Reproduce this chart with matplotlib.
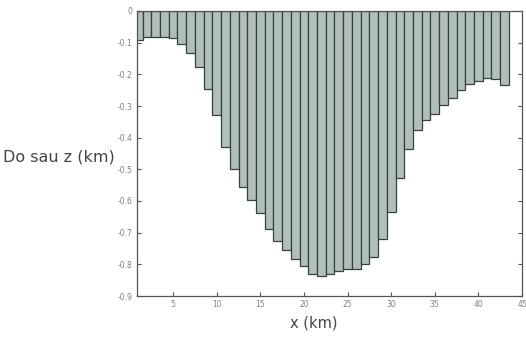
import matplotlib
matplotlib.use("Agg")
import matplotlib.pyplot as plt
import numpy as np

# Cross-section of basin depth along the profile
x_km = list(range(1, 44))
depth_km = [
    -0.090, -0.083, -0.081, -0.081, -0.084, -0.105, -0.134, -0.177, -0.245, -0.329,
    -0.430, -0.500, -0.557, -0.598, -0.639, -0.687, -0.725, -0.756, -0.783, -0.804,
    -0.832, -0.838, -0.830, -0.822, -0.816, -0.814, -0.798, -0.777, -0.719, -0.635,
    -0.527, -0.437, -0.376, -0.345, -0.324, -0.297, -0.276, -0.250, -0.229, -0.220,
    -0.213, -0.216, -0.234,
]
x_ticks = [5, 10, 15, 20, 25, 30, 35, 40, 45]
y_ticks = [0, -0.1, -0.2, -0.3, -0.4, -0.5, -0.6, -0.7, -0.8, -0.9]
y_tick_labels = ["0", "-0.1", "-0.2", "-0.3", "-0.4", "-0.5", "-0.6", "-0.7", "-0.8", "-0.9"]

fig = plt.figure(figsize=(5.26, 3.38), dpi=100)
ax = fig.add_axes([137 / 526, 1 - 296 / 338, 385 / 526, 285 / 338])

ax.bar(x_km, depth_km, width=1.0, align="center",
       color="#b1bebb", edgecolor="#33443f", linewidth=0.9)

ax.set_xlim(0.86, 45)
ax.set_ylim(-0.9, 0)
ax.set_xticks(x_ticks)
ax.set_yticks(y_ticks)
ax.set_yticklabels(y_tick_labels)

ax.tick_params(direction="in", length=3, width=0.8, colors="#555555",
               labelsize=5.5, labelcolor="#808080", top=False, right=True, pad=3)
for side in ax.spines.values():
    side.set_color("#555555")
    side.set_linewidth(0.9)

ax.set_xlabel("x (km)", fontsize=10.5, color="#444444")
ax.xaxis.set_label_coords(0.46, -0.068)
ax.set_ylabel("Do sau z (km)", fontsize=11.5, color="#444444",
              rotation=0, ha="right", va="center")
ax.yaxis.set_label_coords(-0.058, 0.488)

fig.savefig("out.png", dpi=100)
